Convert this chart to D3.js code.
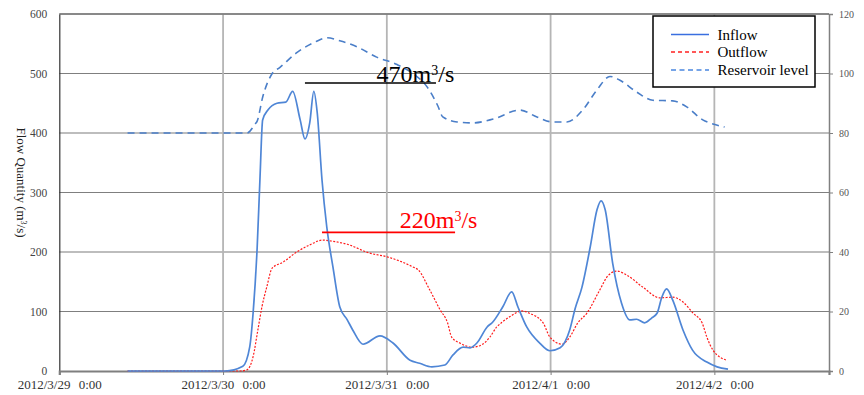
<!DOCTYPE html>
<html>
<head>
<meta charset="utf-8">
<script src="https://cdn.jsdelivr.net/npm/d3@7"></script>
<style>
  html, body { margin: 0; padding: 0; background: #fff; }
  svg { display: block; }
  text { font-family: "Liberation Serif", "DejaVu Serif", serif; }
</style>
</head>
<body>
<svg id="chart" width="864" height="395"></svg>
<script>
// Hours after 2012/3/29 0:00 and flows (m3/s) / level
const inflowHours = [10, 24.3, 26.9, 27.9, 28.4, 29.0, 29.4, 29.8, 30.6, 31.9, 33.2, 34.2, 35.3, 36.0, 36.7, 37.3, 37.8, 38.5, 39.2, 40.1, 41.1, 42.2, 43.0, 44.5, 47.0, 48.9, 51.4, 52.8, 54.6, 56.5, 57.7, 59.2, 60.2, 61.2, 62.7, 63.5, 65.0, 66.3, 67.2, 68.5, 70.4, 71.9, 73.4, 74.8, 75.6, 76.6, 77.8, 78.8, 79.4, 80.0, 81.1, 82.4, 83.6, 84.6, 85.8, 86.8, 87.6, 88.3, 89.0, 89.9, 91.4, 92.8, 94.9, 96.4, 98.0];
const inflowValues = [0, 0, 8, 40, 97, 208, 321, 422, 439, 450, 452, 470, 422, 390, 417, 470, 434, 321, 242, 175, 108, 86, 69, 45, 59, 47, 18, 13, 7, 10, 27, 40, 39, 47, 74, 82, 108, 133, 108, 74, 47, 34, 39, 69, 105, 141, 208, 271, 286, 271, 181, 114, 86, 87, 81, 89, 97, 124, 138, 119, 69, 35, 15, 7, 3];

const outflowHours = [10, 26.5, 27.5, 28.4, 29.1, 29.7, 30.4, 31.2, 32.8, 34.8, 36.7, 38.6, 40.1, 42.2, 45.5, 48.0, 51.8, 52.6, 54.3, 55.8, 56.9, 57.5, 58.7, 60.5, 61.9, 63.1, 64.1, 64.9, 66.0, 67.8, 68.9, 70.9, 71.9, 73.7, 74.8, 76.0, 77.3, 79.2, 80.4, 81.7, 83.2, 85.5, 88.0, 89.9, 91.4, 92.9, 94.2, 94.9, 95.8, 97.8];
const outflowValues = [0, 0, 2, 24, 69, 108, 141, 173, 183, 200, 212, 220, 218, 213, 198, 192, 175, 170, 136, 103, 81, 57, 47, 40, 44, 57, 74, 82, 91, 101, 97, 81, 57, 45, 57, 81, 97, 136, 160, 168, 161, 141, 123, 124, 116, 97, 81, 57, 35, 18];

const levelHours = [10, 27.5, 28.7, 29.0, 29.8, 31.2, 32.3, 34.8, 37.5, 39.2, 41.1, 43.6, 46.5, 49.5, 51.8, 53.9, 55.5, 56.2, 58.3, 60.6, 63.6, 67.5, 70.0, 72.3, 74.4, 76.7, 78.8, 80.7, 82.1, 84.6, 87.0, 89.9, 92.0, 94.3, 95.8, 97.5];
const levelValues = [80, 80, 83, 84, 92, 100, 102, 107, 110.6, 112, 111, 109, 105.5, 103, 100, 95.5, 89, 85.4, 83.7, 83.4, 84.7, 87.7, 85.4, 83.7, 83.7, 87.7, 94.5, 99, 97.8, 93.8, 91, 90.8, 88.7, 84.4, 83, 82];

const dayTicks = ["2012/3/29 0:00", "2012/3/30 0:00", "2012/3/31 0:00", "2012/4/1 0:00", "2012/4/2 0:00"];
const flowTicks = [0, 100, 200, 300, 400, 500, 600];
const levelTicks = [0, 20, 40, 60, 80, 100, 120];
const seriesNames = ["Inflow", "Outflow", "Reservoir level"];

const start = new Date(2012, 2, 29, 0, 0);
const hour = 3600 * 1000;
const toDate = h => new Date(start.getTime() + h * hour);

const svg = d3.select("#chart");
const plotLeft = 59.3, plotRight = 829, plotTop = 14, plotBottom = 371;

const x = d3.scaleTime().domain([start, toDate(4.7 * 24)]).range([plotLeft, plotRight]);
const y = d3.scaleLinear().domain([0, 600]).range([plotBottom, plotTop]);
const y2 = d3.scaleLinear().domain([0, 120]).range([plotBottom, plotTop]);

// horizontal gridlines
svg.append("g").selectAll("line").data(flowTicks.slice(1)).join("line")
  .attr("x1", plotLeft).attr("x2", plotRight)
  .attr("y1", d => y(d)).attr("y2", d => y(d))
  .attr("stroke", d => (d === 200 || d === 400) ? "#bdbdbd" : "#7f7f7f")
  .attr("stroke-width", d => (d === 200 || d === 400) ? 2 : 1);

// vertical gridlines at each day
const days = dayTicks.map((_, i) => toDate(i * 24));
svg.append("g").selectAll("line").data(days.slice(1)).join("line")
  .attr("x1", d => x(d)).attr("x2", d => x(d))
  .attr("y1", plotTop).attr("y2", plotBottom)
  .attr("stroke", "#b5b5b5").attr("stroke-width", 1.8);

// left axis
const yAxis = svg.append("g").attr("transform", `translate(${plotLeft},0)`)
  .call(d3.axisLeft(y).tickValues(flowTicks).tickSize(0).tickPadding(12));
yAxis.select(".domain").attr("stroke", "#333").attr("stroke-width", 1.2);
yAxis.selectAll("text").attr("font-size", 11.5).attr("fill", "#444")
  .attr("font-family", "Liberation Serif, serif");

// right axis
const y2Axis = svg.append("g").attr("transform", `translate(${plotRight},0)`)
  .call(d3.axisRight(y2).tickValues(levelTicks).tickSize(4).tickPadding(6));
y2Axis.select(".domain").attr("stroke", "#808080").attr("stroke-width", 1.5);
y2Axis.selectAll(".tick line").attr("stroke", "#808080");
y2Axis.selectAll("text").attr("font-size", 10).attr("fill", "#555")
  .attr("font-family", "Liberation Serif, serif");

// bottom axis
const xAxis = svg.append("g").attr("transform", `translate(0,${plotBottom})`)
  .call(d3.axisBottom(x).tickValues(days).tickSize(4).tickPadding(4)
    .tickFormat((d, i) => dayTicks[i]));
xAxis.select(".domain").attr("stroke", "#7f7f7f").attr("stroke-width", 2.2);
xAxis.selectAll(".tick line").attr("stroke", "#7f7f7f");
xAxis.selectAll("text").attr("font-size", 13).attr("fill", "#333")
  .attr("font-family", "Liberation Serif, serif").attr("dy", "0.8em")
  .style("word-spacing", "5px");

// top frame line
svg.append("line").attr("x1", plotLeft).attr("x2", plotRight).attr("y1", plotTop).attr("y2", plotTop)
  .attr("stroke", "#555").attr("stroke-width", 1.2);

// y axis title
svg.append("text")
  .attr("transform", `translate(17,${(plotTop + plotBottom) / 2 - 10}) rotate(90)`)
  .attr("text-anchor", "middle").attr("font-size", 13).attr("fill", "#222")
  .call(t => {
    t.append("tspan").text("Flow Quantity (m");
    t.append("tspan").attr("font-size", 8).attr("baseline-shift", "super").text("3");
    t.append("tspan").text("/s)");
  });

const toPts = (hs, vs) => hs.map((h, i) => [toDate(h), vs[i]]);

const lineFlow = d3.line().x(d => x(d[0])).y(d => y(d[1])).curve(d3.curveMonotoneX);
const lineLevel = d3.line().x(d => x(d[0])).y(d => y2(d[1])).curve(d3.curveMonotoneX);

svg.append("path").datum(toPts(levelHours, levelValues))
  .attr("d", lineLevel).attr("fill", "none")
  .attr("stroke", "#4a7ec8").attr("stroke-width", 1.6).attr("stroke-dasharray", "7,5");

svg.append("path").datum(toPts(outflowHours, outflowValues))
  .attr("d", lineFlow).attr("fill", "none")
  .attr("stroke", "#ff1a1a").attr("stroke-width", 1.2).attr("stroke-dasharray", "2,1.5");

svg.append("path").datum(toPts(inflowHours, inflowValues))
  .attr("d", lineFlow).attr("fill", "none")
  .attr("stroke", "#4f86d6").attr("stroke-width", 1.7);

// peak annotations
function annotate(peakValue, lineX0, lineX1, lineVal, textX, textVal, color) {
  svg.append("line")
    .attr("x1", x(toDate(lineX0))).attr("x2", x(toDate(lineX1)))
    .attr("y1", y(lineVal)).attr("y2", y(lineVal))
    .attr("stroke", color).attr("stroke-width", 1.6);
  svg.append("text")
    .attr("x", x(toDate(textX))).attr("y", y(textVal))
    .attr("font-size", 24).attr("fill", color)
    .call(t => {
      t.append("tspan").text(peakValue + "m");
      t.append("tspan").attr("font-size", 14).attr("baseline-shift", "super").text("3");
      t.append("tspan").text("/s");
    });
}
annotate(inflowValues[inflowHours.indexOf(37.3)], 36.0, 55.2, 484, 46.5, 485, "#000");
annotate(outflowValues[outflowHours.indexOf(38.6)], 38.5, 58.0, 233, 49.9, 241, "#ff0000");

// legend
const lg = svg.append("g");
lg.append("rect").attr("x", 653).attr("y", 16).attr("width", 162).attr("height", 71)
  .attr("fill", "#fff").attr("stroke", "#000").attr("stroke-width", 1.5);
const legendStyles = [
  { color: "#3a6fe0", dash: null },
  { color: "#ff2020", dash: "4,3" },
  { color: "#4a86e0", dash: "5,3.5" }
];
const rowY = [34.5, 52, 70];
seriesNames.forEach((name, i) => {
  lg.append("line").attr("x1", 671).attr("x2", 709).attr("y1", rowY[i]).attr("y2", rowY[i])
    .attr("stroke", legendStyles[i].color).attr("stroke-width", 1.6)
    .attr("stroke-dasharray", legendStyles[i].dash);
  lg.append("text").attr("x", 717.5).attr("y", rowY[i] + 5)
    .attr("font-size", 15).attr("fill", "#000").text(name);
});
</script>
</body>
</html>
